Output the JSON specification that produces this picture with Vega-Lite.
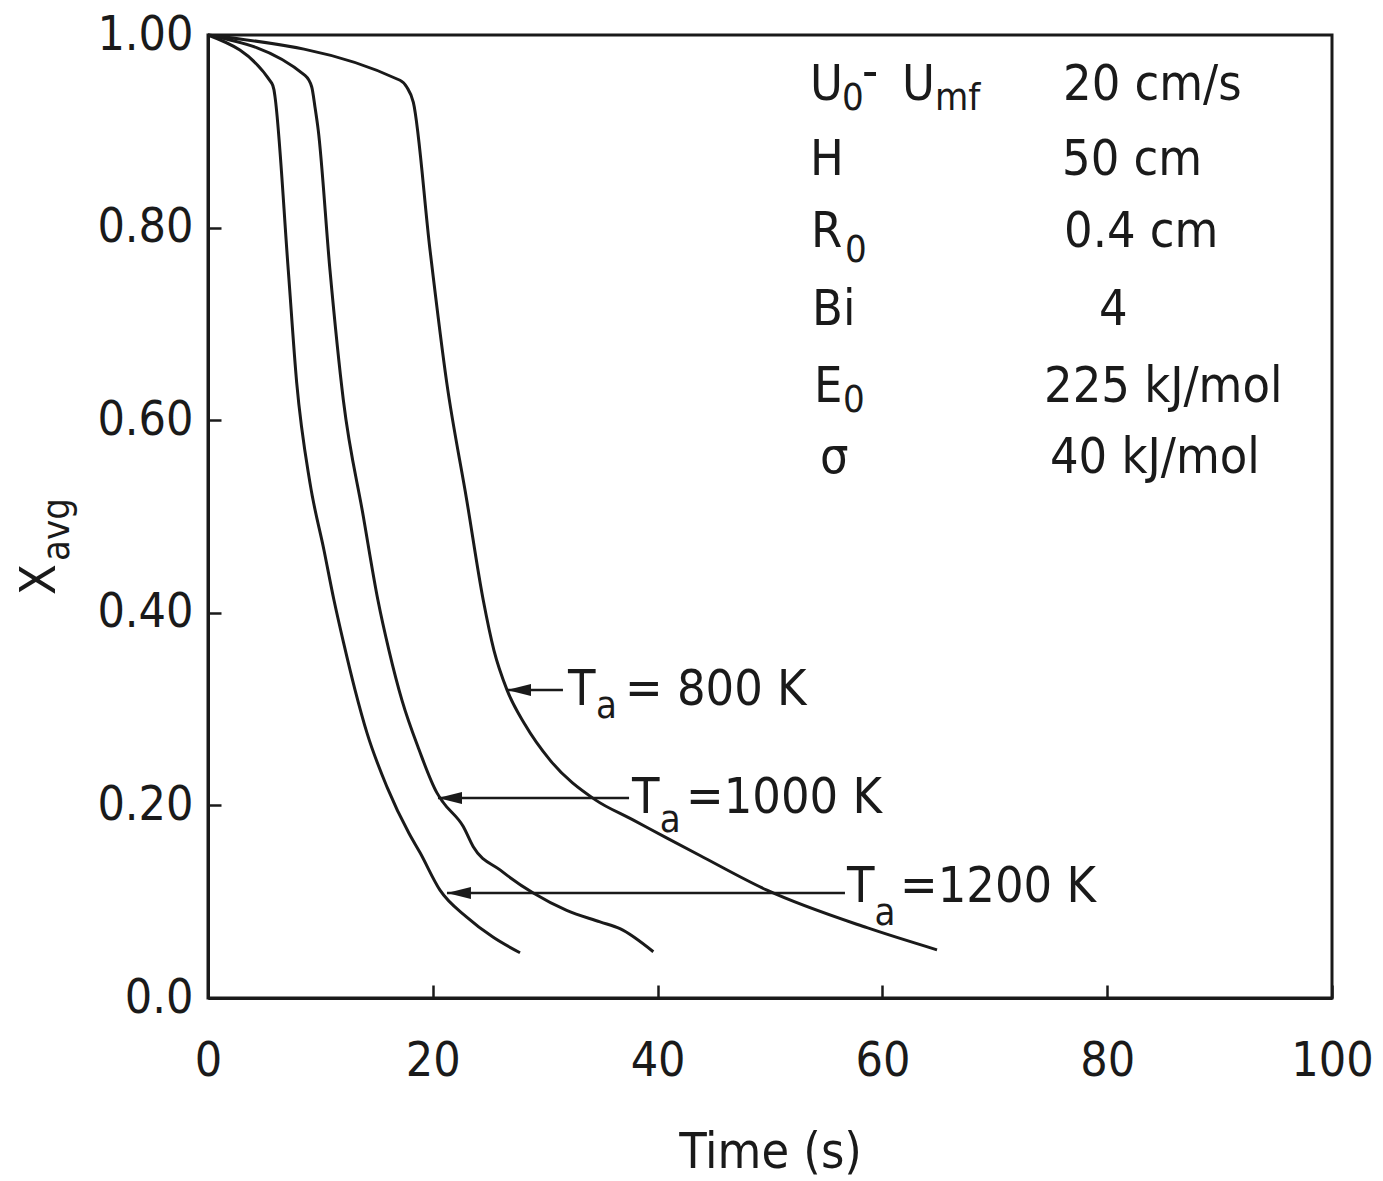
{
  "$schema": "https://vega.github.io/schema/vega-lite/v6.json",
  "width": 1124,
  "height": 963,
  "autosize": {"type": "none"},
  "padding": {"left": 208, "top": 35, "right": 51, "bottom": 183},
  "background": "white",
  "config": {
    "font": "DejaVu Sans Condensed",
    "view": {"stroke": "#1a1a1a", "strokeWidth": 3},
    "axis": {
      "grid": false,
      "domainColor": "#1a1a1a",
      "domainWidth": 3,
      "tickColor": "#1a1a1a",
      "tickWidth": 2.5,
      "tickSize": -13,
      "labelFont": "DejaVu Sans Condensed",
      "labelFontSize": 48,
      "labelColor": "#1a1a1a",
      "titleFont": "DejaVu Sans Condensed",
      "titleFontSize": 50,
      "titleFontWeight": "normal",
      "titleColor": "#1a1a1a"
    }
  },
  "datasets": {
    "curves": [
      {"T": "1200 K", "time": 0, "x_avg": 1.0},
      {"T": "1200 K", "time": 5.67, "x_avg": 0.950},
      {"T": "1200 K", "time": 5.87, "x_avg": 0.943},
      {"T": "1200 K", "time": 5.96, "x_avg": 0.936},
      {"T": "1200 K", "time": 7.14, "x_avg": 0.756},
      {"T": "1200 K", "time": 7.89, "x_avg": 0.639},
      {"T": "1200 K", "time": 9.07, "x_avg": 0.535},
      {"T": "1200 K", "time": 10.32, "x_avg": 0.465},
      {"T": "1200 K", "time": 11.21, "x_avg": 0.413},
      {"T": "1200 K", "time": 12.06, "x_avg": 0.369},
      {"T": "1200 K", "time": 13.08, "x_avg": 0.320},
      {"T": "1200 K", "time": 14.15, "x_avg": 0.275},
      {"T": "1200 K", "time": 15.93, "x_avg": 0.219},
      {"T": "1200 K", "time": 17.88, "x_avg": 0.171},
      {"T": "1200 K", "time": 18.86, "x_avg": 0.151},
      {"T": "1200 K", "time": 20.64, "x_avg": 0.112},
      {"T": "1200 K", "time": 23.02, "x_avg": 0.084},
      {"T": "1200 K", "time": 25.38, "x_avg": 0.063},
      {"T": "1200 K", "time": 27.76, "x_avg": 0.047},
      {"T": "1000 K", "time": 0, "x_avg": 1.0},
      {"T": "1000 K", "time": 8.63, "x_avg": 0.958},
      {"T": "1000 K", "time": 9.23, "x_avg": 0.946},
      {"T": "1000 K", "time": 9.52, "x_avg": 0.925},
      {"T": "1000 K", "time": 9.81, "x_avg": 0.901},
      {"T": "1000 K", "time": 10.85, "x_avg": 0.756},
      {"T": "1000 K", "time": 12.04, "x_avg": 0.621},
      {"T": "1000 K", "time": 13.82, "x_avg": 0.500},
      {"T": "1000 K", "time": 15.12, "x_avg": 0.413},
      {"T": "1000 K", "time": 16.1, "x_avg": 0.361},
      {"T": "1000 K", "time": 17.26, "x_avg": 0.309},
      {"T": "1000 K", "time": 18.77, "x_avg": 0.258},
      {"T": "1000 K", "time": 20.37, "x_avg": 0.213},
      {"T": "1000 K", "time": 20.93, "x_avg": 0.203},
      {"T": "1000 K", "time": 22.71, "x_avg": 0.178},
      {"T": "1000 K", "time": 23.6, "x_avg": 0.157},
      {"T": "1000 K", "time": 25.98, "x_avg": 0.133},
      {"T": "1000 K", "time": 28.94, "x_avg": 0.109},
      {"T": "1000 K", "time": 31.91, "x_avg": 0.091},
      {"T": "1000 K", "time": 34.88, "x_avg": 0.079},
      {"T": "1000 K", "time": 36.65, "x_avg": 0.072},
      {"T": "1000 K", "time": 39.62, "x_avg": 0.048},
      {"T": "800 K", "time": 0, "x_avg": 1.0},
      {"T": "800 K", "time": 17.08, "x_avg": 0.953},
      {"T": "800 K", "time": 17.68, "x_avg": 0.946},
      {"T": "800 K", "time": 18.27, "x_avg": 0.930},
      {"T": "800 K", "time": 19.75, "x_avg": 0.777},
      {"T": "800 K", "time": 21.24, "x_avg": 0.639},
      {"T": "800 K", "time": 23.02, "x_avg": 0.517},
      {"T": "800 K", "time": 24.49, "x_avg": 0.413},
      {"T": "800 K", "time": 25.44, "x_avg": 0.361},
      {"T": "800 K", "time": 26.6, "x_avg": 0.320},
      {"T": "800 K", "time": 28.2, "x_avg": 0.284},
      {"T": "800 K", "time": 30.43, "x_avg": 0.247},
      {"T": "800 K", "time": 34.43, "x_avg": 0.206},
      {"T": "800 K", "time": 37.81, "x_avg": 0.185},
      {"T": "800 K", "time": 40.84, "x_avg": 0.166},
      {"T": "800 K", "time": 43.77, "x_avg": 0.148},
      {"T": "800 K", "time": 49.73, "x_avg": 0.112},
      {"T": "800 K", "time": 58.63, "x_avg": 0.073},
      {"T": "800 K", "time": 64.86, "x_avg": 0.050}
    ],
    "arrows": [
      {"T": "800 K", "time": 26.6, "time2": 31.58, "x_avg": 0.3198},
      {"T": "1000 K", "time": 20.46, "time2": 37.46, "x_avg": 0.2077},
      {"T": "1200 K", "time": 21.26, "time2": 56.67, "x_avg": 0.109}
    ],
    "texts": [
      {"role": "main", "text": "U", "time": 53.56, "x_avg": 0.9325},
      {"role": "sub", "text": "0", "time": 56.41, "x_avg": 0.9221},
      {"role": "main", "text": "-", "time": 58.19, "x_avg": 0.945},
      {"role": "main", "text": "U", "time": 61.74, "x_avg": 0.9325},
      {"role": "sub", "text": "mf", "time": 64.68, "x_avg": 0.9221},
      {"role": "main", "text": "20 cm/s", "time": 76.07, "x_avg": 0.9325},
      {"role": "main", "text": "H", "time": 53.56, "x_avg": 0.8546},
      {"role": "main", "text": "50 cm", "time": 75.98, "x_avg": 0.8546},
      {"role": "main", "text": "R", "time": 53.65, "x_avg": 0.7799},
      {"role": "sub", "text": "0", "time": 56.67, "x_avg": 0.7643},
      {"role": "main", "text": "0.4 cm", "time": 76.16, "x_avg": 0.7799},
      {"role": "main", "text": "Bi", "time": 53.74, "x_avg": 0.6989},
      {"role": "main", "text": "4", "time": 79.27, "x_avg": 0.6989},
      {"role": "main", "text": "E", "time": 53.91, "x_avg": 0.6189},
      {"role": "sub", "text": "0", "time": 56.5, "x_avg": 0.6085},
      {"role": "main", "text": "225 kJ/mol", "time": 74.38, "x_avg": 0.6189},
      {"role": "main", "text": "σ", "time": 54.45, "x_avg": 0.5452},
      {"role": "main", "text": "40 kJ/mol", "time": 74.91, "x_avg": 0.5452},
      {"role": "main", "text": "T", "time": 32.03, "x_avg": 0.3043},
      {"role": "sub", "text": "a", "time": 34.52, "x_avg": 0.2908},
      {"role": "main", "text": "= 800 K", "time": 37.1, "x_avg": 0.3043},
      {"role": "main", "text": "T", "time": 37.72, "x_avg": 0.1921},
      {"role": "sub", "text": "a", "time": 40.2, "x_avg": 0.1724},
      {"role": "main", "text": "=1000 K", "time": 42.53, "x_avg": 0.1921},
      {"role": "main", "text": "T", "time": 56.85, "x_avg": 0.0997},
      {"role": "sub", "text": "a", "time": 59.3, "x_avg": 0.0758},
      {"role": "main", "text": "=1200 K", "time": 61.57, "x_avg": 0.0997},
      {"role": "ymain", "text": "X", "time": -13.61, "x_avg": 0.4185},
      {"role": "ysub", "text": "avg", "time": -12.37, "x_avg": 0.4538}
    ]
  },
  "encoding": {
    "x": {
      "field": "time",
      "type": "quantitative",
      "scale": {"domain": [0, 100], "nice": false, "zero": false},
      "axis": {
        "title": "Time (s)",
        "values": [0, 20, 40, 60, 80, 100],
        "labelPadding": 52,
        "labelBaseline": "top",
        "titlePadding": 42,
        "labelFlush": false
      }
    },
    "y": {
      "field": "x_avg",
      "type": "quantitative",
      "scale": {"domain": [0, 1], "nice": false, "zero": false},
      "axis": {
        "title": null,
        "values": [0, 0.2, 0.4, 0.6, 0.8, 1.0],
        "labelExpr": "datum.value == 0 ? '0.0' : format(datum.value, '.2f')",
        "labelPadding": 28,
        "labelFlush": false
      }
    }
  },
  "layer": [
    {
      "data": {"name": "curves"},
      "mark": {"type": "line", "color": "#1a1a1a", "strokeWidth": 3, "interpolate": "monotone"},
      "encoding": {"detail": {"field": "T"}}
    },
    {
      "data": {"name": "arrows"},
      "mark": {"type": "rule", "color": "#1a1a1a", "strokeWidth": 2.5},
      "encoding": {"x2": {"field": "time2"}}
    },
    {
      "data": {"name": "arrows"},
      "mark": {"type": "point", "shape": "M0,0L2,-0.5L2,0.5Z", "size": 576, "filled": true, "color": "#1a1a1a", "opacity": 1}
    },
    {
      "data": {"name": "texts"},
      "transform": [{"filter": "datum.role == 'main'"}],
      "mark": {"type": "text", "align": "left", "baseline": "alphabetic", "fontSize": 50, "color": "#1a1a1a", "font": "DejaVu Sans Condensed"},
      "encoding": {"text": {"field": "text"}}
    },
    {
      "data": {"name": "texts"},
      "transform": [{"filter": "datum.role == 'sub'"}],
      "mark": {"type": "text", "align": "left", "baseline": "alphabetic", "fontSize": 38, "color": "#1a1a1a", "font": "DejaVu Sans Condensed"},
      "encoding": {"text": {"field": "text"}}
    },
    {
      "data": {"name": "texts"},
      "transform": [{"filter": "datum.role == 'ymain'"}],
      "mark": {"type": "text", "align": "left", "baseline": "alphabetic", "angle": 270, "fontSize": 50, "color": "#1a1a1a", "font": "DejaVu Sans Condensed"},
      "encoding": {"text": {"field": "text"}}
    },
    {
      "data": {"name": "texts"},
      "transform": [{"filter": "datum.role == 'ysub'"}],
      "mark": {"type": "text", "align": "left", "baseline": "alphabetic", "angle": 270, "fontSize": 38, "color": "#1a1a1a", "font": "DejaVu Sans Condensed"},
      "encoding": {"text": {"field": "text"}}
    }
  ]
}
